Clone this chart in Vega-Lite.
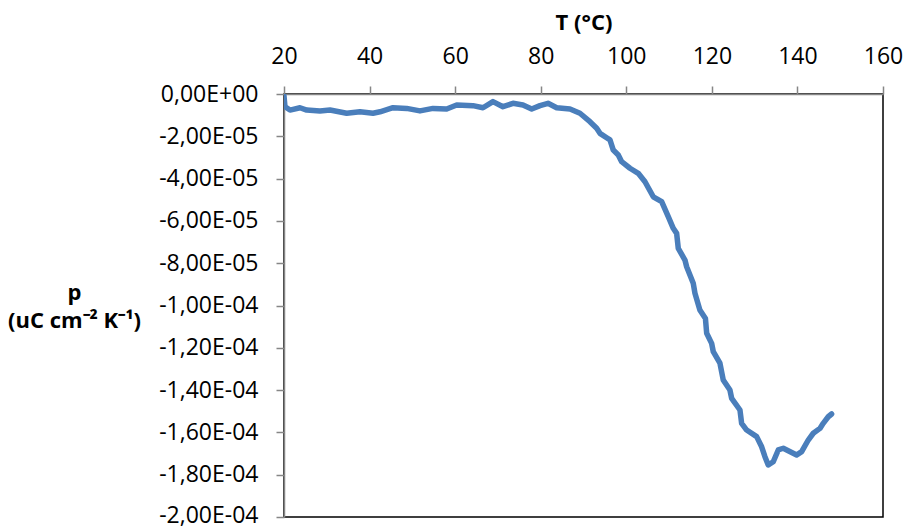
{
  "$schema": "https://vega.github.io/schema/vega-lite/v6.json",
  "width": 599,
  "height": 423,
  "autosize": {"type": "none"},
  "padding": {"left": 284, "top": 94, "right": 24, "bottom": 12},
  "background": "white",
  "config": {
    "view": {"stroke": "#000000", "strokeWidth": 1.5},
    "axis": {"grid": false, "domainColor": "#868686", "domainWidth": 1.5, "tickColor": "#868686", "tickWidth": 1.5, "tickSize": 8,
      "labelFont": "Open Sans", "labelFontSize": 23, "labelColor": "#000000", "labelFlush": false, "labelOverlap": false, "labelBound": false,
      "titleFont": "Open Sans", "titleFontWeight": "bold", "titleFontSize": 22, "titleColor": "#000000"}
  },
  "data": {"values": [
    {"T": 20.0, "p": -0.09e-5}, {"T": 20.23, "p": -0.60e-5}, {"T": 21.40, "p": -0.76e-5}, {"T": 23.74, "p": -0.65e-5},
    {"T": 25.30, "p": -0.76e-5}, {"T": 28.41, "p": -0.80e-5}, {"T": 30.75, "p": -0.76e-5}, {"T": 34.65, "p": -0.91e-5},
    {"T": 37.76, "p": -0.84e-5}, {"T": 40.80, "p": -0.91e-5}, {"T": 42.44, "p": -0.84e-5}, {"T": 45.47, "p": -0.65e-5},
    {"T": 48.67, "p": -0.68e-5}, {"T": 51.78, "p": -0.80e-5}, {"T": 54.82, "p": -0.68e-5}, {"T": 58.02, "p": -0.71e-5},
    {"T": 60.36, "p": -0.52e-5}, {"T": 64.17, "p": -0.55e-5}, {"T": 66.51, "p": -0.65e-5}, {"T": 68.84, "p": -0.36e-5},
    {"T": 71.18, "p": -0.60e-5}, {"T": 73.52, "p": -0.44e-5}, {"T": 75.85, "p": -0.52e-5}, {"T": 77.89, "p": -0.71e-5},
    {"T": 79.83, "p": -0.55e-5}, {"T": 81.70, "p": -0.44e-5}, {"T": 83.73, "p": -0.65e-5}, {"T": 86.84, "p": -0.71e-5},
    {"T": 89.17, "p": -0.91e-5}, {"T": 91.51, "p": -1.31e-5}, {"T": 93.08, "p": -1.62e-5}, {"T": 93.85, "p": -1.86e-5},
    {"T": 95.41, "p": -2.07e-5}, {"T": 96.19, "p": -2.17e-5}, {"T": 96.96, "p": -2.65e-5}, {"T": 98.13, "p": -2.88e-5},
    {"T": 98.92, "p": -3.20e-5}, {"T": 100.86, "p": -3.51e-5}, {"T": 102.80, "p": -3.75e-5}, {"T": 104.37, "p": -4.15e-5},
    {"T": 106.31, "p": -4.86e-5}, {"T": 108.27, "p": -5.09e-5}, {"T": 109.81, "p": -5.80e-5}, {"T": 110.98, "p": -6.35e-5},
    {"T": 111.77, "p": -6.59e-5}, {"T": 112.15, "p": -7.30e-5}, {"T": 113.71, "p": -7.85e-5}, {"T": 114.11, "p": -8.17e-5},
    {"T": 115.65, "p": -8.95e-5}, {"T": 116.05, "p": -9.42e-5}, {"T": 117.2, "p": -10.21e-5}, {"T": 118.50, "p": -10.61e-5},
    {"T": 118.79, "p": -11.31e-5}, {"T": 119.95, "p": -11.79e-5}, {"T": 120.33, "p": -12.18e-5}, {"T": 121.89, "p": -12.73e-5},
    {"T": 122.66, "p": -13.52e-5}, {"T": 124.23, "p": -14.00e-5}, {"T": 124.63, "p": -14.39e-5}, {"T": 126.57, "p": -14.94e-5},
    {"T": 126.96, "p": -15.57e-5}, {"T": 128.13, "p": -15.89e-5}, {"T": 130.47, "p": -16.20e-5}, {"T": 131.64, "p": -16.68e-5},
    {"T": 132.41, "p": -17.15e-5}, {"T": 133.18, "p": -17.54e-5}, {"T": 134.35, "p": -17.39e-5}, {"T": 135.52, "p": -16.83e-5},
    {"T": 136.69, "p": -16.75e-5}, {"T": 139.82, "p": -17.07e-5}, {"T": 140.99, "p": -16.91e-5}, {"T": 142.53, "p": -16.36e-5},
    {"T": 143.70, "p": -16.04e-5}, {"T": 145.26, "p": -15.81e-5}, {"T": 146.03, "p": -15.57e-5}, {"T": 147.20, "p": -15.26e-5},
    {"T": 147.99, "p": -15.13e-5}
  ]},
  "mark": {"type": "line", "color": "#4a7ebb", "strokeWidth": 5.5, "strokeCap": "round", "strokeJoin": "round", "clip": true},
  "encoding": {
    "x": {"field": "T", "type": "quantitative", "sort": null,
      "scale": {"domain": [20, 160], "nice": false, "zero": false},
      "axis": {"orient": "top", "values": [20, 40, 60, 80, 100, 120, 140, 160], "labelPadding": 18, "title": "T (°C)", "titleBaseline": "alphabetic", "titleY": -65, "titleX": 299.5}},
    "y": {"field": "p", "type": "quantitative",
      "scale": {"domain": [-0.0002, 0], "nice": false, "zero": false},
      "axis": {"orient": "left", "values": [0, -0.00002, -0.00004, -0.00006, -0.00008, -0.0001, -0.00012, -0.00014, -0.00016, -0.00018, -0.0002],
        "labelPadding": 18,
        "labelOffset": {"condition": {"test": "datum.value <= -0.00019", "value": -2}, "value": 0},
        "labelExpr": "replace(replace(replace(replace(format(datum.value, '.2e'), '.', ','), 'e-', 'E-0'), 'e+', 'E+0'), '\u2212', '-')",
        "title": ["p", "(uC cm⁻² K⁻¹)"], "titleAngle": 0, "titleAlign": "center", "titleBaseline": "alphabetic", "titleX": -210, "titleY": 205, "titleLineHeight": 28}}
  }
}
